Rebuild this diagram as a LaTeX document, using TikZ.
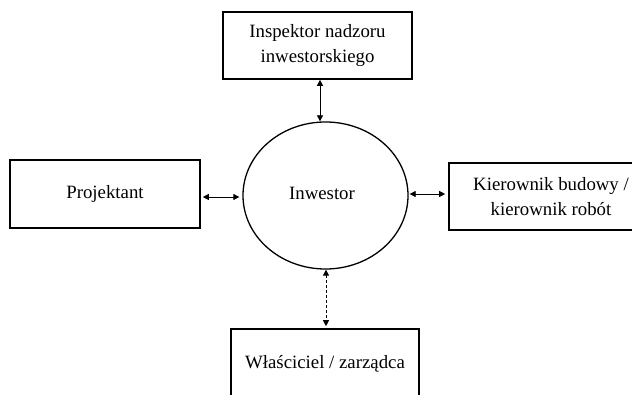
\documentclass[tikz,border=0pt]{standalone}
\usepackage{fontspec}
\setmainfont{Liberation Serif}
\usetikzlibrary{shapes.geometric,arrows.meta}
\begin{document}
\begin{tikzpicture}[x=1pt,y=-1pt,
  box/.style={draw,line width=1.6pt,rectangle,inner sep=0pt,align=center,font=\fontsize{18.8}{25}\selectfont},
  arr/.style={line width=0.8pt,{Triangle[length=6pt,width=6pt]}-{Triangle[length=6pt,width=6pt]}},
  dsh/.style={arr,dash pattern=on 3pt off 2pt}]
\useasboundingbox (0,0) rectangle (632,395);
\clip (0,0) rectangle (632,395);
\node[box,minimum width=189pt,minimum height=67pt] (top) at (317.5,45.5) {Inspektor nadzoru\\inwestorskiego};
\node[box,minimum width=190pt,minimum height=68pt] (left) at (105,194) {Projektant};
\node[box,minimum width=204pt,minimum height=67pt] (right) at (551,196.5) {Kierownik budowy /\\kierownik robót};
\node[box,minimum width=188pt,minimum height=70pt] (bot) at (325,364) {\raisebox{2pt}{Właściciel / zarządca}};
\node[draw,ellipse,line width=1.3pt,inner sep=0pt,minimum width=165pt,minimum height=147pt,font=\fontsize{18.8}{25}\selectfont] (inw) at (325.5,195.5) {};
\node[font=\fontsize{18.8}{25}\selectfont] (inwt) at (322,193) {Inwestor};
\draw[arr] ([xshift=2.5pt]top.south) -- ([xshift=-5.5pt]inw.north);
\draw[arr,shorten <=2pt,shorten >=3pt] ([yshift=-3pt]left.east) -- ([yshift=-3pt]left.east -| inw.west);
\draw[arr,shorten <=1pt,shorten >=3pt] ([yshift=1.5pt]inw.east) -- ([yshift=1.5pt]inw.east -| right.west);
\draw[dsh,shorten >=2pt] ([xshift=0.5pt]inw.south) -- ([xshift=1pt]bot.north);
\end{tikzpicture}
\end{document}
